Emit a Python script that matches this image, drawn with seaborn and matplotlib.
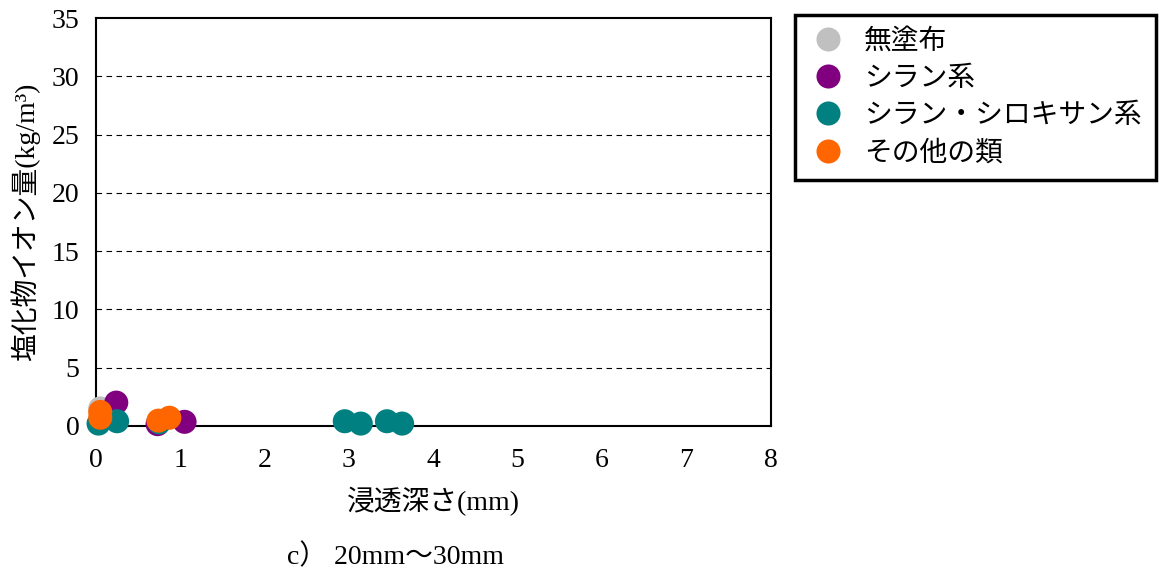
import pandas as pd
import matplotlib
matplotlib.use('Agg')
import matplotlib.pyplot as plt
import seaborn as sns

# 凡例の順番
groups = ['無塗布', 'シラン系', 'シラン・シロキサン系', 'その他の類']
colors = ['#c0c0c0', '#800080', '#008080', '#ff6600']

# 浸透深さ(mm) と 塩化物イオン量(kg/m3)
depth_none = [0.05]
cl_none = [1.5]
depth_silane = [0.24, 0.73, 1.05]
cl_silane = [2.0, 0.15, 0.35]
depth_siloxane = [0.03, 0.25, 0.75, 2.95, 3.14, 3.45, 3.63]
cl_siloxane = [0.2, 0.4, 0.3, 0.4, 0.2, 0.4, 0.2]
depth_other = [0.05, 0.05, 0.74, 0.87]
cl_other = [1.2, 0.7, 0.45, 0.7]

df = pd.concat([
    pd.DataFrame({'depth': depth_none, 'cl': cl_none, 'group': groups[0]}),
    pd.DataFrame({'depth': depth_silane, 'cl': cl_silane, 'group': groups[1]}),
    pd.DataFrame({'depth': depth_siloxane, 'cl': cl_siloxane, 'group': groups[2]}),
    pd.DataFrame({'depth': depth_other, 'cl': cl_other, 'group': groups[3]}),
])

sns.set_style('white')
plt.rcParams['font.family'] = ['Liberation Serif', 'Noto Sans CJK JP']
plt.rcParams['text.color'] = 'black'

fig = plt.figure(figsize=(11.64, 5.74), dpi=100)
ax = fig.add_axes([0.0825, 0.258, 0.5795, 0.7106])

sns.scatterplot(data=df, x='depth', y='cl', hue='group', hue_order=groups,
                palette=colors, s=300, edgecolor='none', ax=ax, clip_on=False, zorder=3)

ax.set_xlim(0, 8)
ax.set_ylim(0, 35)
ax.set_xticks(range(0, 9))
ax.set_yticks(range(0, 36, 5))
ax.tick_params(labelsize=20, length=0, labelcolor='black')
ax.tick_params(axis='x', pad=16)
ax.tick_params(axis='y', pad=12)
for y in range(5, 35, 5):
    ax.axhline(y, color='black', linestyle=(0, (5, 4)), linewidth=0.8, zorder=1)
for sp in ax.spines.values():
    sp.set_color('black')
    sp.set_linewidth(1.5)

ax.set_xlabel('浸透深さ(mm)', fontsize=20, labelpad=10, color='black')
ax.set_ylabel('塩化物イオン量(kg/m³)', fontsize=20, labelpad=8, color='black')

leg = ax.legend(loc='upper left', bbox_to_anchor=(1.0356, 1.007), frameon=True,
                fontsize=20, markerscale=1.0, handlelength=1.4, handletextpad=0.6,
                borderpad=0.5, borderaxespad=0, labelspacing=0.42, fancybox=False,
                framealpha=1)
leg.get_frame().set_edgecolor('black')
leg.get_frame().set_linewidth(2.5)

fig.text(0.34, 0.03, 'c） 20mm～30mm', fontsize=20, ha='center', va='center')

fig.savefig('out.png', dpi=100)
